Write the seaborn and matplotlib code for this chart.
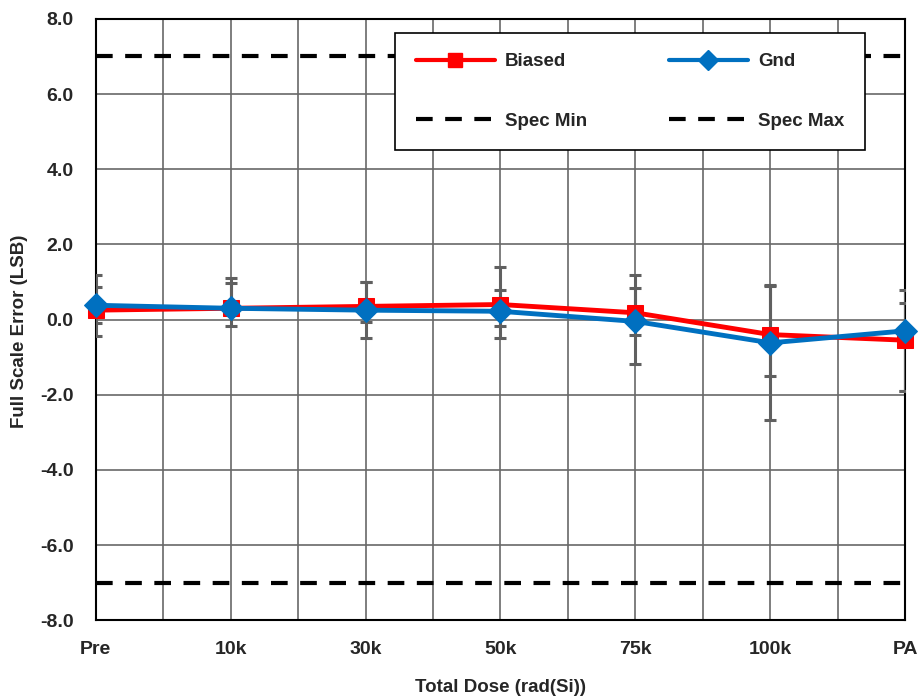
import numpy as np
import pandas as pd
import matplotlib
matplotlib.use("Agg")
import matplotlib.pyplot as plt
from matplotlib.lines import Line2D
import seaborn as sns

# data
doses = ["Pre", "10k", "30k", "50k", "75k", "100k", "PA"]
biased = [0.25, 0.30, 0.35, 0.40, 0.18, -0.40, -0.55]
gnd = [0.38, 0.30, 0.25, 0.22, -0.05, -0.62, -0.30]
# error bar ends (absolute values)
biased_hi = [0.86, 0.98, 1.00, 0.78, 0.83, 0.92, 0.45]
biased_lo = [-0.09, 0.14, -0.06, -0.17, -0.41, -1.50, -1.90]
gnd_hi = [1.18, 1.10, 1.01, 1.40, 1.18, 0.90, 0.78]
gnd_lo = [-0.44, -0.17, -0.50, -0.48, -1.17, -2.67, -1.90]
spec_min = -7.0
spec_max = 7.0

sns.set_style("white")
plt.rcParams["font.family"] = ["Liberation Sans", "DejaVu Sans"]
plt.rcParams["font.weight"] = "bold"

df = pd.DataFrame({"pos": np.arange(len(doses)), "Biased": biased, "Gnd": gnd})

fig = plt.figure(figsize=(9.2, 7), dpi=100)
ax = fig.add_axes([0.104, 0.114, 0.880, 0.859])

red = "#FF0000"
blue = "#0070C0"
err_col = "#606060"

# error bars (min/max)
for vals, lo, hi in [(biased, biased_lo, biased_hi), (gnd, gnd_lo, gnd_hi)]:
    v = np.array(vals)
    yerr = [v - np.array(lo), np.array(hi) - v]
    ax.errorbar(df["pos"], v, yerr=yerr, fmt="none", ecolor=err_col,
                elinewidth=2.2, capsize=4.5, capthick=2.2, zorder=3)

sns.lineplot(data=df, x="pos", y="Biased", ax=ax, color=red, lw=3.5,
             marker="s", markersize=12, markeredgecolor=red, zorder=4, clip_on=False)
sns.lineplot(data=df, x="pos", y="Gnd", ax=ax, color=blue, lw=3.5,
             marker="D", markersize=12, markeredgecolor=blue, zorder=5, clip_on=False)

ax.axhline(spec_min, color="black", lw=3, ls=(0, (4, 3)), zorder=2)
ax.axhline(spec_max, color="black", lw=3, ls=(0, (4, 3)), zorder=2)

ax.set_xlim(0, len(doses) - 1)
ax.set_ylim(-8, 8)
ax.set_xticks(df["pos"])
ax.set_xticklabels(doses)
ax.set_xticks(np.arange(0.5, len(doses) - 1, 1), minor=True)
ax.set_yticks(np.arange(-8, 8.1, 2))
ax.set_yticklabels([f"{t:.1f}" for t in np.arange(-8, 8.1, 2)])
ax.tick_params(axis="both", which="both", length=0, labelsize=14)
ax.tick_params(axis="x", pad=15)
ax.tick_params(axis="y", pad=16)
for lab in ax.get_xticklabels() + ax.get_yticklabels():
    lab.set_fontweight("bold")

ax.grid(True, which="major", color="#686868", lw=1.2)
ax.grid(True, which="minor", axis="x", color="#686868", lw=1.2)
ax.set_axisbelow(True)
for s in ax.spines.values():
    s.set_color("black")
    s.set_linewidth(1.5)

ax.set_xlabel("Total Dose (rad(Si))", fontsize=13.5, fontweight="bold")
ax.set_ylabel("Full Scale Error (LSB)", fontsize=13.5, fontweight="bold")
ax.xaxis.set_label_coords(0.5, -0.097)
ax.yaxis.set_label_coords(-0.084, 0.481)

handles = [
    Line2D([], [], color=red, lw=3, marker="s", markersize=10),
    Line2D([], [], color="black", lw=3, ls=(0, (4, 3))),
    Line2D([], [], color=blue, lw=3, marker="D", markersize=10),
    Line2D([], [], color="black", lw=3, ls=(0, (4, 3))),
]
labels = ["Biased", "Spec Min", "Gnd", "Spec Max"]
leg = ax.legend(handles, labels, ncol=2, loc="upper left",
                bbox_to_anchor=(0.37, 0.782, 0.58, 0.195), mode="expand",
                borderaxespad=0, frameon=True, fancybox=False, framealpha=1,
                edgecolor="black", fontsize=13.5, handlelength=4.2,
                handletextpad=0.55, labelspacing=2.25, borderpad=1.1,
                columnspacing=2.0)
leg.get_frame().set_linewidth(1.2)
for t in leg.get_texts():
    t.set_fontweight("bold")

fig.savefig("out.png", dpi=100)
